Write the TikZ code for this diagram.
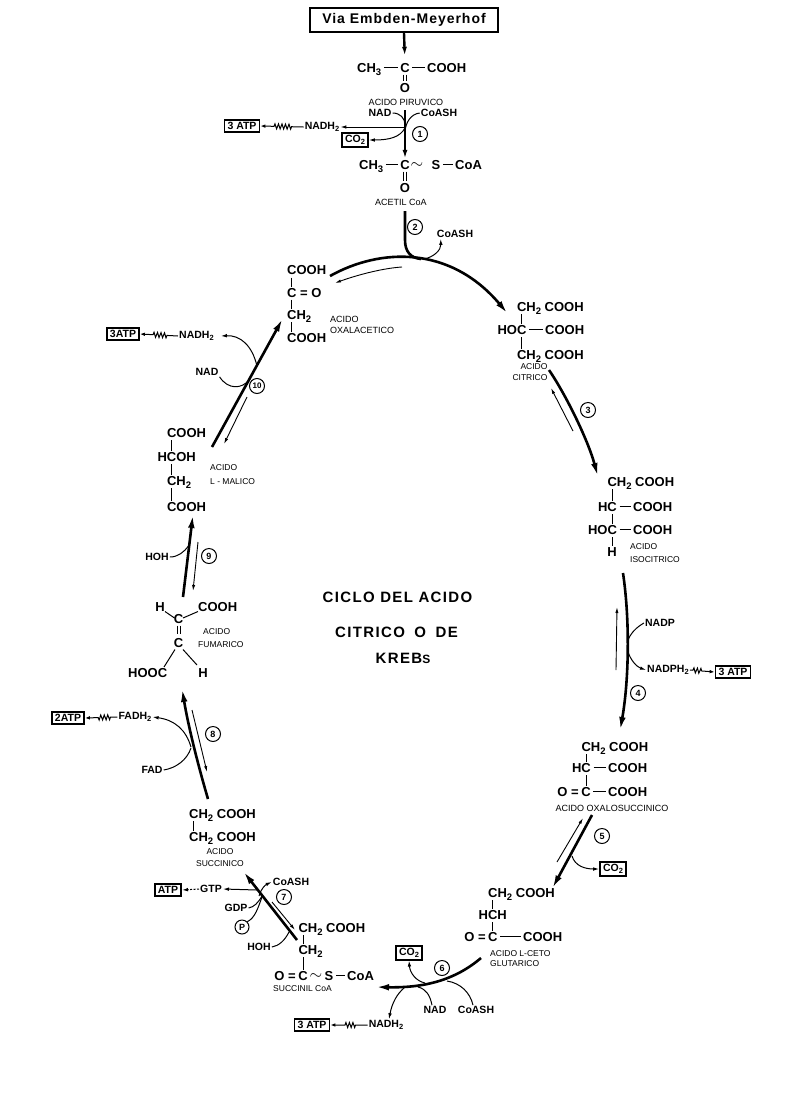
\documentclass[tikz,border=0pt]{standalone}
\usepackage{fontspec}
\setmainfont{Liberation Sans}
\usetikzlibrary{arrows.meta,decorations.pathmorphing}
\newcommand{\dn}[1]{\raisebox{-2.6pt}{\fontsize{9.5}{9.5}\selectfont #1}}
\newcommand{\dnl}[1]{\raisebox{-2pt}{\fontsize{7.5}{7.5}\selectfont #1}}
\newcommand{\vbd}[3]{\draw[vbond] (#1,#2) -- (#1,#3);}
\newcommand{\tld}{\raisebox{0.6pt}{\scalebox{1.35}{$\sim$}}}
\tikzset{
 mol/.style={font=\fontsize{13}{13}\selectfont\bfseries, inner sep=0pt, text height=9.5pt, text depth=0pt},
 lab/.style={font=\fontsize{9}{9}\selectfont, inner sep=0pt},
 slab/.style={font=\fontsize{8.5}{8.5}\selectfont, inner sep=0pt},
 rg/.style={font=\fontsize{10.5}{10.5}\selectfont\bfseries, inner sep=1pt},
 num/.style={circle, draw, line width=1pt, minimum size=15pt, inner sep=0pt, font=\fontsize{9}{9}\selectfont\bfseries},
 enbox/.style={draw, line width=1.8pt, font=\fontsize{10.5}{10.5}\selectfont\bfseries, inner xsep=3pt, inner ysep=2pt},
 bond/.style={line width=1.1pt, shorten <=2.5pt, shorten >=2.5pt},
 vbond/.style={line width=1pt},
 dbl/.style={line width=0.9pt, shorten <=2pt, shorten >=1.5pt},
 mainarr/.style={line width=2.6pt, -{Latex[length=14pt,width=6.5pt]}},
 mainline/.style={line width=2.6pt},
 revarr/.style={line width=0.9pt, -{Latex[length=6pt,width=3.2pt]}},
 sidearr/.style={line width=1pt, -{Latex[length=6pt,width=3.6pt]}},
 sideline/.style={line width=1pt},
 wavy/.style={line width=1pt, -{Latex[length=5pt,width=3.6pt]}, decorate,
   decoration={zigzag, amplitude=2.5pt, segment length=3.5pt, pre length=#1, post length=13pt}},
 wavy/.default=11pt,
 title/.style={font=\fontsize{15}{15}\selectfont\bfseries\addfontfeature{LetterSpace=9}, inner sep=0pt}
}
\begin{document}
\begin{tikzpicture}[x=1pt,y=-1pt]
\fill[white] (0,0) rectangle (800,1101);
\useasboundingbox (0,0) rectangle (800,1101);

% ---------- top ----------
\node[draw, line width=1.8pt, minimum width=188pt, minimum height=24pt, inner sep=0pt,
  font=\fontsize{14}{14}\selectfont\bfseries\addfontfeature{LetterSpace=7}] (vem) at (404,20) {Via Embden-Meyerhof};

\node[mol, anchor=base west] (pyCH3) at (357,72.5) {CH\dn{3}};
\node[mol, anchor=base] (pyC) at (405,72.5) {C};
\node[mol, anchor=base west] (pyCOOH) at (427,72.5) {COOH};
\draw[bond] (pyCH3) -- (pyC);
\draw[bond] (pyC) -- (pyCOOH);
\node[mol, anchor=base] (pyO) at (405,92.5) {O};
\draw[dbl] ([xshift=-1.6pt]pyC.south) -- ([xshift=-1.6pt]pyO.north);
\draw[dbl] ([xshift=1.6pt]pyC.south) -- ([xshift=1.6pt]pyO.north);
\draw[line width=2.4pt, -{Latex[length=9pt,width=5pt]}, shorten >=7pt] (vem.south) -- (pyC.north);
\node[lab] (pyl) at (406,102) {ACIDO PIRUVICO};

\node[rg] (nad1) at (380,113) {NAD};
\node[rg] (coash1) at (439,113) {CoASH};
\node[num] (n1) at (420,134) {1};
\node[rg] (nadh1) at (322,127) {NADH\dnl{2}};
\node[enbox] (atp1) at (242,126) {3 ATP};
\node[enbox] (co2a) at (355,140) {CO\dnl{2}};

\node[mol, anchor=base west] (acCH3) at (359,169.5) {CH\dn{3}};
\node[mol, anchor=base] (acC) at (405,169.5) {C};
\node[mol, anchor=base] (actl) at (417,169.5) {\tld};
\node[mol, anchor=base] (acS) at (436,169.5) {S};
\node[mol, anchor=base west] (acCoA) at (455,169.5) {CoA};
\draw[bond] (acCH3) -- (acC);
\draw[bond] (acS) -- (acCoA);
\node[mol, anchor=base] (acO) at (405,192.5) {O};
\draw[dbl] ([xshift=-1.6pt]acC.south) -- ([xshift=-1.6pt]acO.north);
\draw[dbl] ([xshift=1.6pt]acC.south) -- ([xshift=1.6pt]acO.north);
\node[lab] (acl) at (401,202) {ACETIL CoA};

\coordinate (s1a) at (405,110);
\coordinate (s1n) at (405,127);
\draw[line width=2.4pt, -{Latex[length=9pt,width=5pt]}, shorten >=1pt] (s1a) -- (acC.north);
\draw[sideline] (nad1.east) .. controls (400,113) and (405,118) .. (405,125);
\draw[sideline] (coash1.west) .. controls (411,114) and (406,122) .. (405,131);
\draw[sidearr] (s1n) -- (nadh1.east);
\draw[sidearr] (405,128) .. controls (400,137) and (390,140) .. (co2a.east);
\draw[wavy=12pt] (nadh1.west) -- (atp1.east);

% ---------- step 2 ----------
\coordinate (s2a) at (405,211);
\coordinate (s2b) at (421,259);
\draw[mainline] (s2a) -- (405,240) .. controls (405,252) and (411,258) .. (s2b);
\node[num] (n2) at (415,227) {2};
\node[rg] (coash2) at (455,234) {CoASH};
\draw[sidearr] (424,259) .. controls (434,257) and (441,250) .. ([xshift=5pt]coash2.south west);

\coordinate (a1) at (330,276);
\coordinate (a2) at (508,314);
\draw[mainarr] (a1) .. controls (380,248) and (450,245) .. (a2);
\coordinate (r1a) at (402,267);
\coordinate (r1b) at (335,283);
\draw[revarr] (r1a) .. controls (385,268) and (360,274) .. (r1b);

% ---------- oxaloacetate ----------
\node[mol, anchor=base west] (oa1) at (287,274.5) {COOH};
\node[mol, anchor=base west] (oa2) at (287,297.5) {C = O};
\node[mol, anchor=base west] (oa3) at (287,319.5) {CH\dn{2}};
\node[mol, anchor=base west] (oa4) at (287,342.5) {COOH};
\vbd{291.7}{277.5}{286.5}
\vbd{291.7}{299.5}{308.5}
\vbd{291.7}{322}{331.5}
\node[lab, anchor=west] (oal1) at (330,319) {ACIDO};
\node[lab, anchor=west] (oal2) at (330,330) {OXALACETICO};

% ---------- citric ----------
\node[mol, anchor=base west] (ci1) at (516.8,311.5) {CH\dn{2} COOH};
\node[mol, anchor=base west] (ci2) at (497.3,334.5) {HOC};
\node[mol, anchor=base west] (ci2b) at (545,334.5) {COOH};
\draw[bond] (ci2) -- (ci2b);
\node[mol, anchor=base west] (ci3) at (516.8,359.5) {CH\dn{2} COOH};
\vbd{521.5}{314}{323.5}
\vbd{521.5}{337}{348.5}
\node[slab] (cil1) at (534,367) {ACIDO};
\node[slab] (cil2) at (530,377.5) {CITRICO};

% ---------- step 3 ----------
\coordinate (s3a) at (549,370);
\coordinate (s3b) at (598,477);
\draw[mainarr] (s3a) .. controls (566,395) and (588,440) .. (s3b);
\coordinate (r3a) at (573,431);
\coordinate (r3b) at (551,388);
\draw[revarr] (r3a) -- (r3b);
\node[num] (n3) at (588,410) {3};

% ---------- isocitric ----------
\node[mol, anchor=base west] (is1) at (607.3,486.5) {CH\dn{2} COOH};
\node[mol, anchor=base west] (is2) at (597.9,511.5) {HC};
\node[mol, anchor=base west] (is2b) at (633,511.5) {COOH};
\draw[bond] (is2) -- (is2b);
\node[mol, anchor=base west] (is3) at (587.9,534.5) {HOC};
\node[mol, anchor=base west] (is3b) at (633,534.5) {COOH};
\draw[bond] (is3) -- (is3b);
\node[mol, anchor=base] (is4) at (612,556.5) {H};
\vbd{612}{489}{500.5}
\vbd{612}{514}{523.5}
\vbd{612}{537}{545.5}
\node[slab, anchor=west] (isl1) at (630,547) {ACIDO};
\node[slab, anchor=west] (isl2) at (630,560) {ISOCITRICO};

% ---------- step 4 ----------
\coordinate (s4a) at (623,573);
\coordinate (s4b) at (620,731);
\draw[mainarr] (s4a) .. controls (630,620) and (629,680) .. (s4b);
\coordinate (r4a) at (616,670);
\coordinate (r4b) at (617,607);
\draw[revarr] (r4a) -- (r4b);
\node[rg] (nadp) at (660,623) {NADP};
\draw[sideline] (nadp.west) .. controls (637,627) and (630,633) .. (627.5,642);
\node[rg, anchor=west] (nadph) at (646,670) {NADPH\dnl{2}};
\draw[sidearr] (627.5,650) .. controls (630,660) and (637,667) .. (nadph.west);
\node[enbox] (atp4) at (733,672) {3 ATP};
\draw[line width=1pt, -{Latex[length=5pt,width=3.6pt]}, decorate,
   decoration={zigzag, amplitude=2.5pt, segment length=3.5pt, pre length=3pt, post length=12pt}] (nadph.east) -- (atp4.west);
\node[num] (n4) at (638,693) {4};

% ---------- oxalosuccinic ----------
\node[mol, anchor=base west] (os1) at (581.3,751.5) {CH\dn{2} COOH};
\node[mol, anchor=base west] (os2) at (571.9,772.5) {HC};
\node[mol, anchor=base west] (os2b) at (608,772.5) {COOH};
\draw[bond] (os2) -- (os2b);
\node[mol, anchor=base east] (os3a) at (579,796.5) {O =};
\node[mol, anchor=base] (os3) at (586,796.5) {C};
\node[mol, anchor=base west] (os3b) at (608,796.5) {COOH};
\draw[bond] (os3) -- (os3b);
\vbd{586}{754}{761.5}
\vbd{586}{775}{785.5}
\node[lab] (osl) at (612,808.5) {ACIDO OXALOSUCCINICO};

% ---------- step 5 ----------
\coordinate (s5a) at (592,815);
\coordinate (s5b) at (552,889);
\draw[mainarr] (s5a) -- (s5b);
\coordinate (r5a) at (557,862);
\coordinate (r5b) at (583,818);
\draw[revarr] (r5a) -- (r5b);
\node[num] (n5) at (602,836) {5};
\node[enbox] (co2b) at (613,869) {CO\dnl{2}};
\draw[sidearr] (572,856) .. controls (575,866) and (585,869) .. (co2b.west);

% ---------- alpha-ketoglutaric ----------
\node[mol, anchor=base west] (kg1) at (488,897.5) {CH\dn{2} COOH};
\node[mol, anchor=base] (kg2) at (492.7,919.5) {HCH};
\node[mol, anchor=base east] (kg3a) at (486,941.5) {O =};
\node[mol, anchor=base] (kg3) at (492.7,941.5) {C};
\node[mol, anchor=base west] (kg3b) at (523,941.5) {COOH};
\draw[bond] (kg3) -- (kg3b);
\vbd{492.7}{900}{908.5}
\vbd{492.7}{922}{930.5}
\node[slab, anchor=west] (kgl1) at (490,953.5) {ACIDO L-CETO};
\node[slab, anchor=west] (kgl2) at (490,964) {GLUTARICO};

% ---------- step 6 ----------
\coordinate (s6a) at (481,958);
\coordinate (s6b) at (375,987);
\draw[mainarr] (s6a) .. controls (455,980) and (425,988) .. (s6b);
\node[enbox] (co2c) at (409,953) {CO\dnl{2}};
\draw[sidearr] (425,983) .. controls (416,981) and (410,973) .. (co2c.south);
\node[num] (n6) at (442,968) {6};
\node[rg] (nad6) at (435,1010) {NAD};
\draw[sideline] ([xshift=-3pt]nad6.north) .. controls (430,995) and (426,989) .. (418,987);
\node[rg] (coash6) at (476,1010) {CoASH};
\draw[sideline] (447,981) .. controls (460,983) and (470,992) .. ([xshift=-3pt]coash6.north);
\node[rg] (nadh6) at (386,1025) {NADH\dnl{2}};
\draw[sidearr] (404,988) .. controls (397,994) and (392,1003) .. ([xshift=3pt]nadh6.north);
\node[enbox] (atp6) at (312,1025) {3 ATP};
\draw[wavy=12pt] (nadh6.west) -- (atp6.east);

% ---------- succinyl CoA ----------
\node[mol, anchor=base west] (sc1) at (298.3,932.5) {CH\dn{2} COOH};
\node[mol, anchor=base west] (sc2) at (298.3,954.5) {CH\dn{2}};
\node[mol, anchor=base east] (sc3a) at (296,980.5) {O =};
\node[mol, anchor=base] (sc3) at (303,980.5) {C};
\node[mol, anchor=base] (sc3t) at (316,980.5) {\tld};
\node[mol, anchor=base] (sc3s) at (329,980.5) {S};
\node[mol, anchor=base west] (sc3c) at (347,980.5) {CoA};
\draw[bond] (sc3s) -- (sc3c);
\vbd{303}{935}{943.5}
\vbd{303}{957}{969.5}
\node[slab, anchor=west] (scl) at (273,988.5) {SUCCINIL CoA};

% ---------- step 7 ----------
\coordinate (s7a) at (297,940);
\coordinate (s7b) at (243,871);
\draw[mainarr] (s7a) -- (s7b);
\coordinate (r7a) at (272,902);
\coordinate (r7b) at (295,930);
\draw[revarr] (r7a) -- (r7b);
\node[num] (n7) at (284,897) {7};
\node[rg] (coash7) at (291,882) {CoASH};
\draw[sidearr] (259,896) .. controls (261,889) and (265,885) .. (coash7.west);
\node[enbox] (atp7) at (168,890) {ATP};
\node[rg] (gtp) at (211,889) {GTP};
\draw[sidearr] (257,890) -- (gtp.east);
\draw[sidearr, dash pattern=on 2pt off 1.5pt] (gtp.west) -- (atp7.east);
\node[rg] (gdp) at (236,908) {GDP};
\draw[sideline] (gdp.east) .. controls (254,907) and (258,903) .. (262,896);
\node[circle, draw, line width=1pt, minimum size=14pt, inner sep=0pt, font=\fontsize{9}{9}\selectfont\bfseries] (pp) at (242,927) {P};
\draw[sideline] (pp.north east) .. controls (255,918) and (258,908) .. (262,897);
\node[rg] (hoh7) at (259,947) {HOH};
\draw[sideline] (hoh7.east) .. controls (279,946) and (285,940) .. (289,932);

% ---------- succinic ----------
\node[mol, anchor=base west] (su1) at (189,818.5) {CH\dn{2} COOH};
\node[mol, anchor=base west] (su2) at (189,841.5) {CH\dn{2} COOH};
\vbd{193.7}{821}{830.5}
\node[slab] (sul1) at (220,852) {ACIDO};
\node[slab] (sul2) at (220,863.5) {SUCCINICO};

% ---------- step 8 ----------
\coordinate (s8a) at (208,799);
\coordinate (s8b) at (182,688);
\draw[mainarr] (s8a) .. controls (198,765) and (188,725) .. (s8b);
\coordinate (r8a) at (192,710);
\coordinate (r8b) at (207,772);
\draw[revarr] (r8a) -- (r8b);
\node[num] (n8) at (213,734) {8};
\node[rg] (fadh) at (135,717) {FADH\dnl{2}};
\draw[sidearr] (191,747) .. controls (186,730) and (175,720) .. (fadh.east);
\node[rg] (fad) at (152,770) {FAD};
\draw[sideline] (fad.east) .. controls (176,768) and (187,760) .. (191,748);
\node[enbox] (atp8) at (68,718) {2ATP};
\draw[wavy=7pt] (fadh.west) -- (atp8.east);

% ---------- fumaric ----------
\node[mol, anchor=base] (fuH1) at (160,611) {H};
\node[mol, anchor=base west] (fuCOOH) at (198,611) {COOH};
\node[mol, anchor=base] (fuC1) at (178.5,623.5) {C};
\node[mol, anchor=base] (fuC2) at (178.5,647.5) {C};
\node[mol, anchor=base west] (fuHOOC) at (128,677.5) {HOOC};
\node[mol, anchor=base] (fuH2) at (203,677.5) {H};
\draw[vbond] (165,611.5) -- (174.5,618);
\draw[vbond] (198,611.5) -- (183,618);
\draw[line width=0.9pt] (177,625.5) -- (177,634);
\draw[line width=0.9pt] (180,625.5) -- (180,634);
\draw[vbond] (175,649.5) -- (164,667);
\draw[vbond] (183,649.5) -- (197,665);
\node[slab, anchor=west] (ful1) at (203,632) {ACIDO};
\node[slab, anchor=west] (ful2) at (198,645) {FUMARICO};

% ---------- step 9 ----------
\coordinate (s9a) at (183,597);
\coordinate (s9b) at (193,514);
\draw[mainarr] (s9a) -- (s9b);
\coordinate (r9a) at (198,542);
\coordinate (r9b) at (193,591);
\draw[revarr] (r9a) -- (r9b);
\node[num] (n9) at (209,556) {9};
\node[rg] (hoh9) at (157,557) {HOH};
\draw[sideline] (hoh9.east) .. controls (178,557) and (184,552) .. (188.5,546);

% ---------- malic ----------
\node[mol, anchor=base west] (ma1) at (166.8,437.5) {COOH};
\node[mol, anchor=base west] (ma2) at (157.4,461.5) {HCOH};
\node[mol, anchor=base west] (ma3) at (166.8,485.5) {CH\dn{2}};
\node[mol, anchor=base west] (ma4) at (166.8,511.5) {COOH};
\vbd{171.5}{440}{450.5}
\vbd{171.5}{464}{474.5}
\vbd{171.5}{488}{500.5}
\node[slab, anchor=west] (mal1) at (210,468) {ACIDO};
\node[slab, anchor=west] (mal2) at (210,482) {L - MALICO};

% ---------- step 10 ----------
\coordinate (s10a) at (212,447);
\coordinate (s10b) at (283,318);
\draw[mainarr] (s10a) -- (s10b);
\coordinate (r10a) at (247,397);
\coordinate (r10b) at (224,444);
\draw[revarr] (r10a) -- (r10b);
\node[num, font=\fontsize{8}{8}\selectfont\bfseries] (n10) at (257,386) {10};
\node[rg] (nad10) at (207,372) {NAD};
\draw[sideline] (nad10.south east) .. controls (228,390) and (242,389) .. (249,380);
\node[rg, anchor=west] (nadh10) at (178,336) {NADH\dnl{2}};
\draw[sidearr] (257,366) .. controls (252,345) and (240,335) .. ([xshift=6pt]nadh10.east);
\node[enbox] (atp10) at (123,334) {3ATP};
\draw[wavy=11pt] (nadh10.west) -- (atp10.east);

% ---------- title ----------
\node[title] (t1) at (397.5,597) {CICLO DEL ACIDO};
\node[title] (t2) at (396.5,632) {CITRICO\hspace{4pt} O\hspace{4pt} DE};
\node[title] (t3) at (403,658) {KREB{\fontsize{12}{12}\selectfont S}};
\end{tikzpicture}
\end{document}
